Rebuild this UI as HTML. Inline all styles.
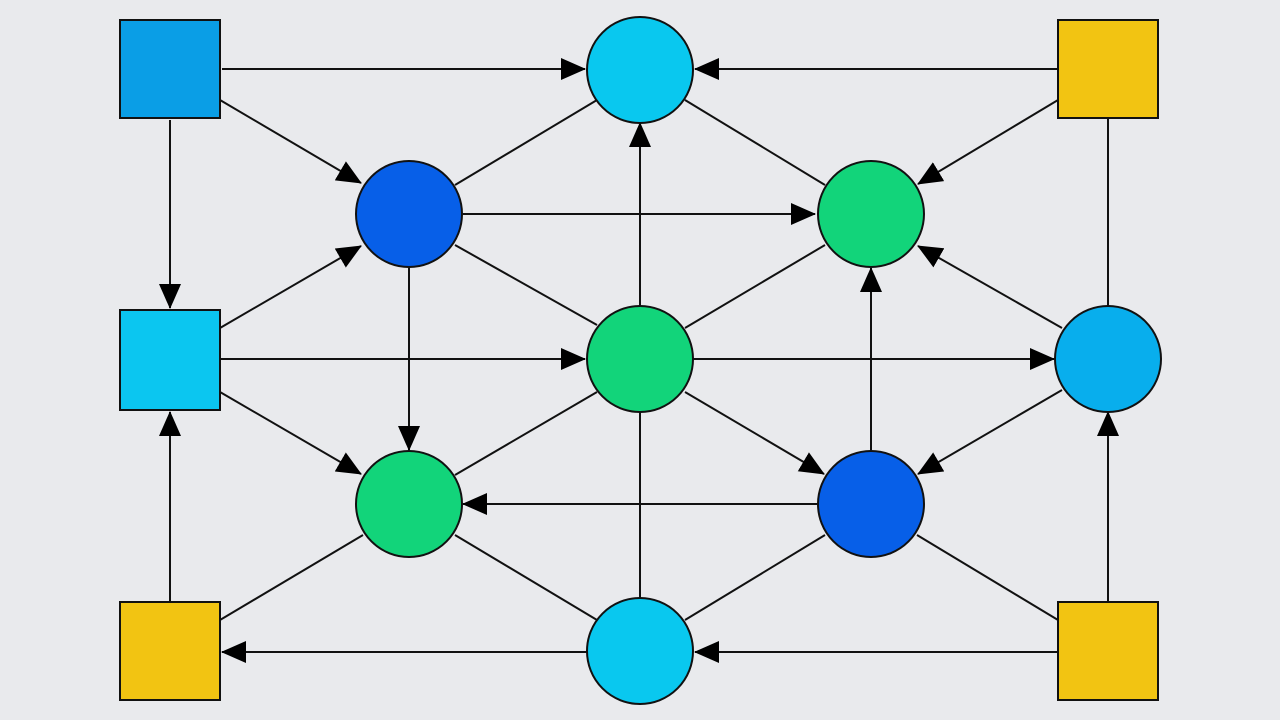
<!DOCTYPE html>
<html><head><meta charset="utf-8"><style>html,body{margin:0;padding:0;background:#e9eaed;}svg{display:block}</style></head>
<body>
<svg width="1280" height="720" viewBox="0 0 1280 720" xmlns="http://www.w3.org/2000/svg">
<defs>
<marker id="a" markerUnits="userSpaceOnUse" markerWidth="26" markerHeight="22" refX="24" refY="11" orient="auto">
<path d="M0,0 L25,11 L0,22 Z" fill="#000"/>
</marker>
</defs>
<rect width="1280" height="720" fill="#e9eaed"/>
<g stroke="#111" stroke-width="2" fill="none">
<line x1="222" y1="69" x2="585" y2="69" marker-end="url(#a)"/>
<line x1="1058" y1="69" x2="695" y2="69" marker-end="url(#a)"/>
<line x1="220" y1="100" x2="361" y2="183" marker-end="url(#a)"/>
<line x1="170" y1="120" x2="170" y2="308" marker-end="url(#a)"/>
<line x1="640" y1="306" x2="640" y2="123" marker-end="url(#a)"/>
<line x1="597" y1="100" x2="455" y2="185"/>
<line x1="685" y1="100" x2="825" y2="185"/>
<line x1="1058" y1="100" x2="918" y2="184" marker-end="url(#a)"/>
<line x1="1108" y1="118" x2="1108" y2="306"/>
<line x1="463" y1="214" x2="815" y2="214" marker-end="url(#a)"/>
<line x1="220" y1="328" x2="361" y2="246" marker-end="url(#a)"/>
<line x1="455" y1="245" x2="597" y2="325"/>
<line x1="825" y1="245" x2="685" y2="328"/>
<line x1="1062" y1="328" x2="918" y2="246" marker-end="url(#a)"/>
<line x1="220" y1="359" x2="585" y2="359" marker-end="url(#a)"/>
<line x1="693" y1="359" x2="1054" y2="359" marker-end="url(#a)"/>
<line x1="409" y1="268" x2="409" y2="450" marker-end="url(#a)"/>
<line x1="220" y1="392" x2="361" y2="474" marker-end="url(#a)"/>
<line x1="597" y1="392" x2="455" y2="475"/>
<line x1="685" y1="392" x2="824" y2="474" marker-end="url(#a)"/>
<line x1="871" y1="450" x2="871" y2="268" marker-end="url(#a)"/>
<line x1="1062" y1="390" x2="918" y2="474" marker-end="url(#a)"/>
<line x1="817" y1="504" x2="463" y2="504" marker-end="url(#a)"/>
<line x1="640" y1="412" x2="640" y2="598"/>
<line x1="170" y1="602" x2="170" y2="412" marker-end="url(#a)"/>
<line x1="1108" y1="602" x2="1108" y2="412" marker-end="url(#a)"/>
<line x1="363" y1="535" x2="220" y2="620"/>
<line x1="455" y1="535" x2="597" y2="620"/>
<line x1="825" y1="535" x2="685" y2="620"/>
<line x1="917" y1="535" x2="1058" y2="620"/>
<line x1="587" y1="652" x2="222" y2="652" marker-end="url(#a)"/>
<line x1="1058" y1="652" x2="695" y2="652" marker-end="url(#a)"/>
</g>
<g stroke="#111" stroke-width="2">
<rect x="120" y="20" width="100" height="98" fill="#0a9ee6"/>
<rect x="120" y="310" width="100" height="100" fill="#0bc6f0"/>
<rect x="120" y="602" width="100" height="98" fill="#f2c412"/>
<rect x="1058" y="20" width="100" height="98" fill="#f2c412"/>
<rect x="1058" y="602" width="100" height="98" fill="#f2c412"/>
<circle cx="640" cy="70" r="53" fill="#09c8ef"/>
<circle cx="409" cy="214" r="53" fill="#075fe8"/>
<circle cx="871" cy="214" r="53" fill="#12d47a"/>
<circle cx="640" cy="359" r="53" fill="#12d47a"/>
<circle cx="1108" cy="359" r="53" fill="#08aeed"/>
<circle cx="409" cy="504" r="53" fill="#12d47a"/>
<circle cx="871" cy="504" r="53" fill="#075fe8"/>
<circle cx="640" cy="651" r="53" fill="#09c8ef"/>
</g>
</svg>
</body></html>
